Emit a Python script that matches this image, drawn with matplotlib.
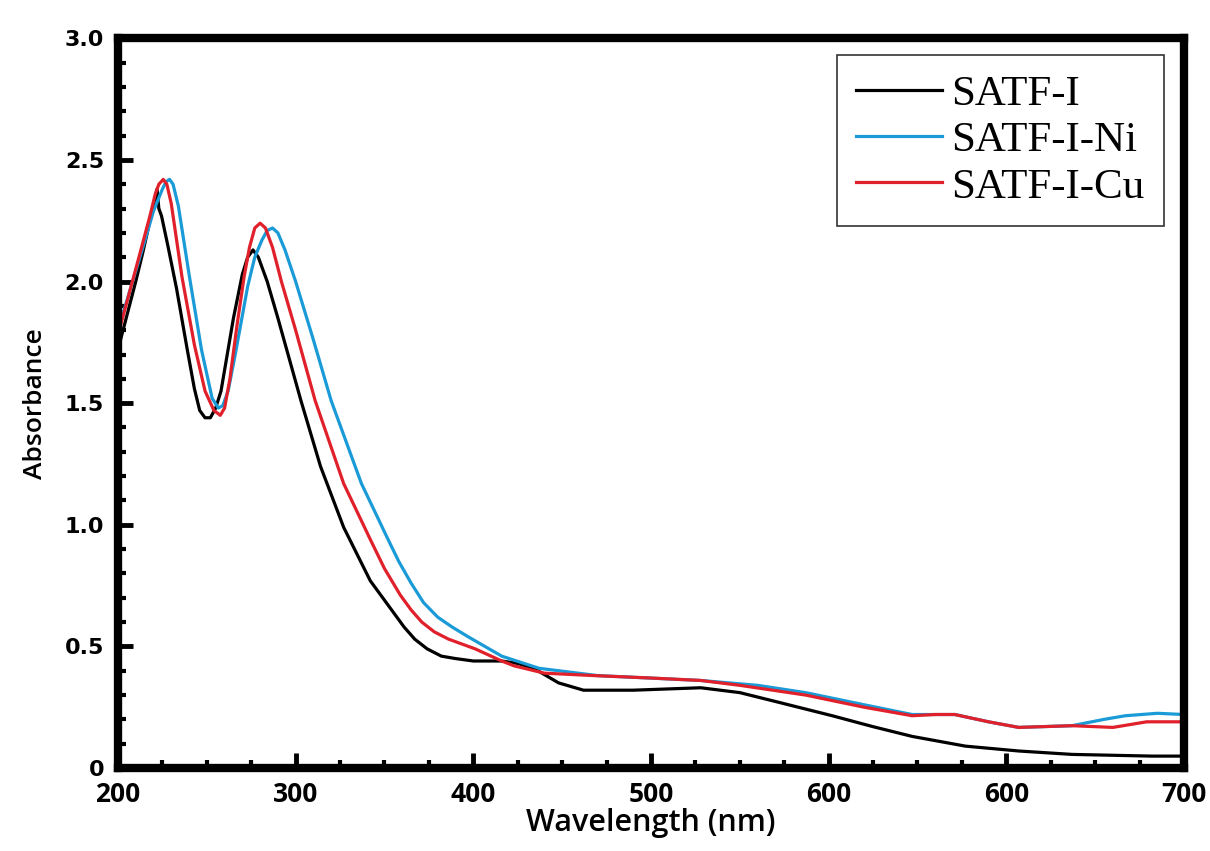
import matplotlib
matplotlib.use("Agg")
import matplotlib.pyplot as plt
from matplotlib.ticker import MultipleLocator

# (wavelength in nm, absorbance)
wl_i = [200, 205, 210, 214, 218, 220.5, 222, 223, 224.5, 228, 233, 239, 243, 246, 249, 252,
        255, 258, 265, 270, 273, 276, 279, 284, 290, 303, 314, 327, 342, 349, 355, 361,
        367, 374, 382, 390, 400, 416, 425, 434, 448, 462, 490, 528, 550, 572, 602, 625,
        647, 677, 707, 737, 782, 800]
abs_i = [1.72, 1.86, 2.00, 2.12, 2.25, 2.33, 2.38, 2.30, 2.27, 2.15, 1.97, 1.72, 1.56,
         1.47, 1.44, 1.44, 1.48, 1.55, 1.85, 2.03, 2.10, 2.13, 2.10, 2.00, 1.85, 1.51,
         1.24, 0.99, 0.77, 0.70, 0.64, 0.58, 0.53, 0.49, 0.46, 0.45, 0.44, 0.44, 0.43,
         0.41, 0.35, 0.32, 0.32, 0.33, 0.31, 0.27, 0.215, 0.17, 0.13, 0.09, 0.07, 0.056,
         0.049, 0.049]

wl_ni = [200, 207, 214, 220, 225, 227, 229, 231, 234, 240, 247, 253, 256.5, 259, 262, 266,
         273, 277, 281, 284, 287, 290, 294, 300, 310, 320, 337, 352, 358, 365, 372, 380,
         388, 397, 416, 437, 470, 528, 560, 587, 620, 647, 660, 671, 690, 707, 737, 755,
         767, 785, 800]
abs_ni = [1.80, 1.97, 2.14, 2.29, 2.38, 2.41, 2.42, 2.40, 2.31, 2.03, 1.72, 1.52, 1.48,
          1.49, 1.55, 1.70, 1.98, 2.10, 2.17, 2.21, 2.22, 2.20, 2.13, 2.00, 1.76, 1.51,
          1.17, 0.94, 0.85, 0.76, 0.68, 0.62, 0.58, 0.54, 0.46, 0.41, 0.38, 0.36, 0.34,
          0.31, 0.26, 0.22, 0.22, 0.22, 0.19, 0.167, 0.174, 0.20, 0.215, 0.225, 0.22]

wl_cu = [200, 207, 214, 218, 221, 223, 225.5, 227.5, 230, 236, 243, 249, 254, 257.6, 260,
         263, 267, 271, 274, 277, 280, 283, 287, 292, 300, 311, 327, 342, 350, 359, 365,
         371, 378, 386, 401, 416, 423, 440, 468, 500, 528, 550, 587, 620, 647, 660, 671,
         690, 707, 737, 760, 779, 800]
abs_cu = [1.78, 1.97, 2.16, 2.27, 2.36, 2.40, 2.42, 2.40, 2.32, 2.02, 1.74, 1.55, 1.47,
          1.45, 1.48, 1.60, 1.82, 2.02, 2.14, 2.22, 2.24, 2.22, 2.14, 2.00, 1.80, 1.51,
          1.17, 0.94, 0.82, 0.71, 0.65, 0.60, 0.56, 0.53, 0.49, 0.44, 0.42, 0.39, 0.38,
          0.37, 0.36, 0.34, 0.30, 0.25, 0.215, 0.22, 0.22, 0.19, 0.167, 0.174, 0.167,
          0.19, 0.19]

x_ticks = [200, 300, 400, 500, 600, 700, 800]
x_labels = ["200", "300", "400", "500", "600", "600", "700"]
y_ticks = [0, 0.5, 1.0, 1.5, 2.0, 2.5, 3.0]
y_labels = ["0", "0.5", "1.0", "1.5", "2.0", "2.5", "3.0"]

fig = plt.figure(figsize=(12.1, 8.51), dpi=100)
ax = fig.add_axes([0.0975, 0.0975, 0.881, 0.8575])

ax.plot(wl_i, abs_i, color="black", lw=2.3, label="SATF-I")
ax.plot(wl_ni, abs_ni, color="#1a9bd7", lw=2.3, label="SATF-I-Ni")
ax.plot(wl_cu, abs_cu, color="#e0202a", lw=2.3, label="SATF-I-Cu")

ax.set_xlim(200, 800)
ax.set_ylim(0, 3.0)
ax.set_xticks(x_ticks)
ax.set_xticklabels(x_labels, fontfamily="Open Sans", fontweight="bold", fontsize=19)
ax.set_yticks(y_ticks)
ax.set_yticklabels(y_labels, fontfamily="DejaVu Sans", fontweight="bold", fontsize=16)
ax.xaxis.set_minor_locator(MultipleLocator(25))
ax.yaxis.set_minor_locator(MultipleLocator(0.1))

for s in ax.spines.values():
    s.set_linewidth(6)
ax.tick_params(which="major", direction="in", length=11, width=3.5)
ax.tick_params(which="minor", direction="in", length=6, width=3)
ax.tick_params(axis="x", which="major", pad=9)
ax.tick_params(axis="y", which="major", pad=10)
ax.tick_params(axis="x", which="both", top=False)
ax.tick_params(axis="y", which="both", right=False)

ax.set_xlabel("Wavelength (nm)", fontfamily="Open Sans", fontweight="semibold", fontsize=22, labelpad=0)
ax.set_ylabel("Absorbance", fontfamily="Open Sans", fontweight="semibold", fontsize=19, labelpad=12)

leg = ax.legend(loc="upper right", bbox_to_anchor=(0.981, 0.977), prop={"family": "Liberation Serif", "size": 31},
                frameon=True, fancybox=False, edgecolor="black", handlelength=2.0, handletextpad=0.2,
                labelspacing=0.17, borderpad=0.45, borderaxespad=0)
leg.get_frame().set_linewidth(1.2)

plt.savefig("out.png", dpi=100)
